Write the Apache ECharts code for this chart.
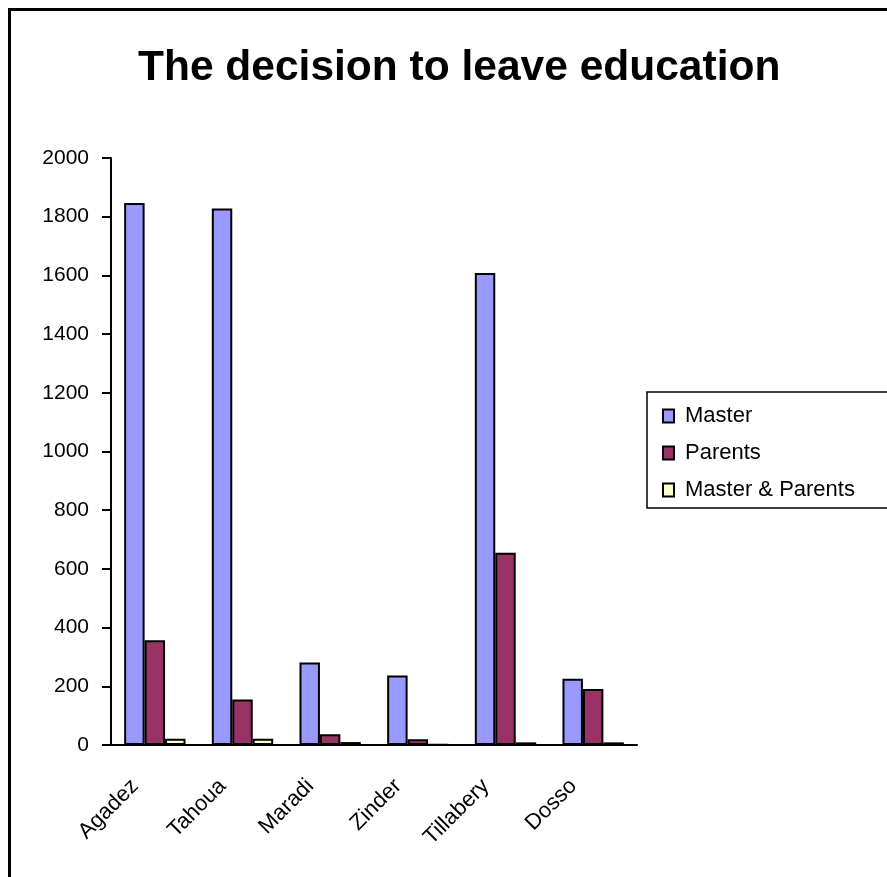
<!DOCTYPE html>
<html>
<head>
<meta charset="utf-8">
<script src="https://cdn.jsdelivr.net/npm/echarts@6/dist/echarts.min.js"></script>
<style>html,body{margin:0;padding:0;background:#fff}#c{width:887px;height:877px}</style>
</head>
<body>
<div id="c"></div>
<script>
const categories = ['Agadez', 'Tahoua', 'Maradi', 'Zinder', 'Tillabery', 'Dosso'];
const seriesNames = ['Master', 'Parents', 'Master & Parents'];
const master = [1847, 1828, 281, 237, 1608, 226];
const parents = [357, 155, 37, 20, 655, 191];
const masterParents = [21, 21, 10, 1, 9, 9];
const colors = ['#9999FF', '#993366', '#FFFFCC'];

const chart = echarts.init(document.getElementById('c'), null, {renderer: 'canvas'});
const font = '"Liberation Sans", Arial, sans-serif';
const values = [master, parents, masterParents];
chart.setOption({
  animation: false,
  backgroundColor: '#fff',
  title: {
    text: 'The decision to leave education',
    left: 133,
    top: 42,
    textStyle: {fontFamily: font, fontSize: 42.5, fontWeight: 'bold', color: '#000'}
  },
  graphic: [{
    type: 'rect',
    shape: {x: 9.5, y: 9.5, width: 900, height: 900},
    style: {fill: 'none', stroke: '#000', lineWidth: 3}
  }],
  legend: {
    orient: 'vertical',
    left: 647,
    top: 392,
    data: seriesNames,
    icon: 'rect',
    itemWidth: 11,
    itemHeight: 13,
    itemGap: 15,
    padding: [13, 40, 7, 15],
    borderColor: '#000',
    borderWidth: 1.5,
    textStyle: {fontFamily: font, fontSize: 22, color: '#000', padding: [0, 0, 0, 6]}
  },
  grid: {left: 111, top: 158, width: 526, height: 587, containLabel: false},
  xAxis: {
    type: 'category',
    data: categories,
    axisLine: {lineStyle: {color: '#000', width: 2}},
    axisTick: {length: 8, lineStyle: {color: '#000', width: 2}},
    axisLabel: {rotate: 45, fontFamily: font, fontSize: 22, color: '#000', margin: 18, padding: [0, 28, 0, 0]}
  },
  yAxis: {
    type: 'value',
    min: 0, max: 2000, interval: 200,
    axisLine: {show: true, lineStyle: {color: '#000', width: 2}},
    axisTick: {show: true, length: 9, lineStyle: {color: '#000', width: 2}},
    splitLine: {show: false},
    axisLabel: {fontFamily: font, fontSize: 21, color: '#000', margin: 22, formatter: v => String(v)}
  },
  series: seriesNames.map((n, i) => ({
    name: n,
    type: 'bar',
    data: values[i],
    barGap: '0%',
    barCategoryGap: '30%',
    itemStyle: {color: colors[i], borderColor: '#000', borderWidth: 2}
  }))
});
</script>
</body>
</html>
